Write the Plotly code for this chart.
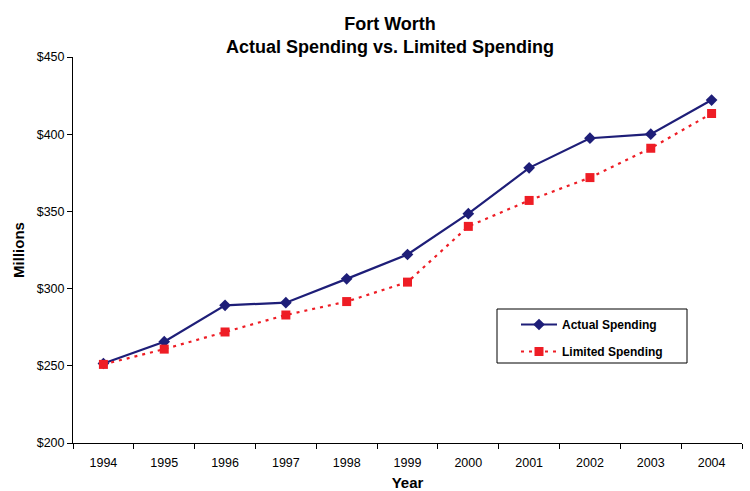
import plotly.graph_objects as go

years = ["1994", "1995", "1996", "1997", "1998", "1999", "2000", "2001", "2002", "2003", "2004"]
actual_spending = [251.5, 265.6, 289.2, 290.9, 306.3, 322.1, 348.5, 378.2, 397.4, 400.0, 422.1]
limited_spending = [250.9, 260.8, 271.9, 282.9, 291.6, 304.2, 340.3, 357.1, 371.9, 390.9, 413.4]
y_ticks = [200, 250, 300, 350, 400, 450]
y_tick_labels = ["$200", "$250", "$300", "$350", "$400", "$450"]

FONT = "Liberation Sans, Arial, sans-serif"
NAVY = "#1e1e78"
RED = "#ee1d25"

# plot area in pixels: x 73..742, y 57..443
L, R, T, B = 73, 8, 57, 48
PW, PH = 750 - L - R, 491 - T - B


def px_x(x):
    return (x - L) / PW


def px_y(y):
    return (491 - B - y) / PH


fig = go.Figure()
fig.add_trace(go.Scatter(
    x=years, y=actual_spending, name="Actual Spending", mode="lines+markers",
    legendgroup="actual",
    line=dict(color=NAVY, width=2.2),
    marker=dict(symbol="diamond", size=9, color=NAVY),
))
fig.add_trace(go.Scatter(
    x=years, y=limited_spending, name="Limited Spending", mode="lines+markers",
    legendgroup="limited",
    line=dict(color=RED, width=2.2, dash="3px,5px"),
    marker=dict(symbol="square", size=9, color=RED),
))

# legend frame
fig.add_shape(
    type="rect", xref="paper", yref="paper",
    x0=px_x(497), x1=px_x(687), y0=px_y(363), y1=px_y(309),
    line=dict(color="black", width=1), fillcolor="white", layer="below",
)

fig.update_layout(
    width=750, height=491,
    margin=dict(l=L, r=R, t=T, b=B),
    paper_bgcolor="white", plot_bgcolor="white",
    font=dict(family=FONT, size=12, color="black"),
    title=dict(
        text="<b>Fort Worth<br>Actual Spending vs. Limited Spending</b>",
        x=0.52, xanchor="center", yref="container", y=1 - 30 / 491, yanchor="middle",
        font=dict(family=FONT, size=18, color="black"),
    ),
    showlegend=True,
    legend=dict(
        x=px_x(516), y=px_y(310), xanchor="left", yanchor="top",
        bgcolor="rgba(0,0,0,0)", borderwidth=0,
        font=dict(family=FONT, size=12, color="black", weight="bold"),
        itemwidth=36, tracegroupgap=8,
    ),
)
fig.update_xaxes(
    type="category", range=[-0.5, 10.5], automargin=False,
    showline=True, linecolor="black", linewidth=1,
    ticks="outside", ticklen=5, tickcolor="black", tickson="boundaries",
    ticklabelstandoff=8,
    showgrid=False, zeroline=False,
    tickfont=dict(family=FONT, size=12.5),
    title=dict(text="<b>Year</b>", font=dict(family=FONT, size=15), standoff=8),
)
fig.update_yaxes(
    range=[200, 450], tickvals=y_ticks, ticktext=y_tick_labels, automargin=False,
    showline=True, linecolor="black", linewidth=1,
    ticks="outside", ticklen=5, tickcolor="black",
    showgrid=False, zeroline=False,
    tickfont=dict(family=FONT, size=12.5),
    title=dict(text="<b>Millions</b>", font=dict(family=FONT, size=15), standoff=8),
)

fig.write_html("out.html")
